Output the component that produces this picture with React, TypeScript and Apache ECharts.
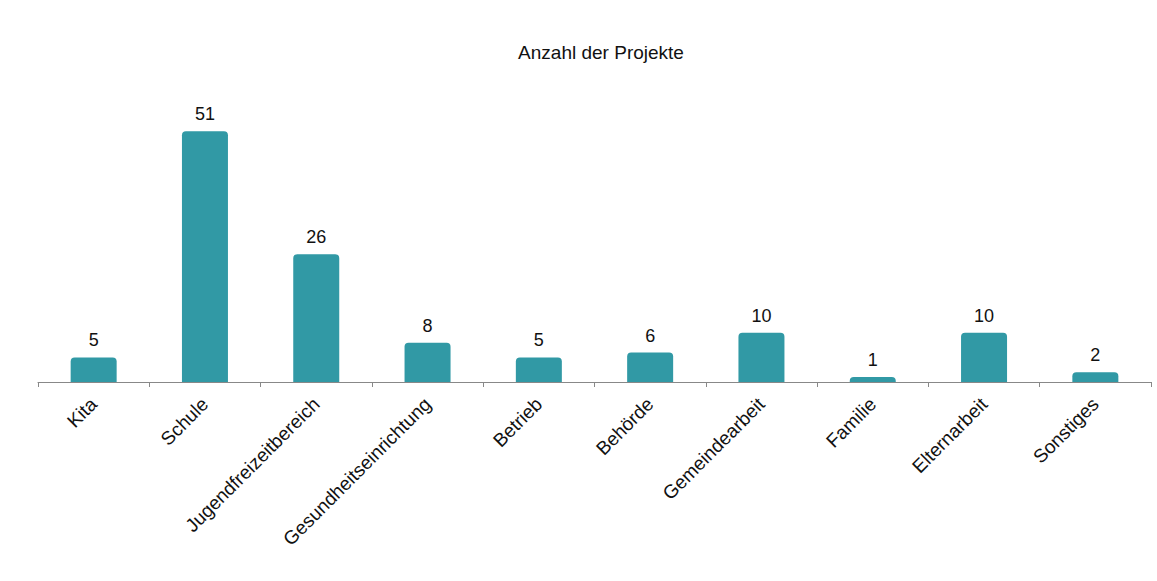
import React, { useEffect, useRef } from "react";
import * as echarts from "echarts";

const categories = ["Kita", "Schule", "Jugendfreizeitbereich", "Gesundheitseinrichtung", "Betrieb", "Behörde", "Gemeindearbeit", "Familie", "Elternarbeit", "Sonstiges"];
const values = [5, 51, 26, 8, 5, 6, 10, 1, 10, 2];
const title = "Anzahl der Projekte";

const FONT = "Liberation Sans, Arial, sans-serif";

export default function App() {
  const ref = useRef<HTMLDivElement>(null);
  useEffect(() => {
    const chart = echarts.init(ref.current!, null, { renderer: "svg" });
    chart.setOption({
      animation: false,
      backgroundColor: "#ffffff",
      title: {
        text: title,
        left: 596,
        top: 38,
        textAlign: "center",
        textStyle: { fontFamily: FONT, fontSize: 19, fontWeight: "normal", color: "#111" },
      },
      grid: { left: 38, right: 6, top: 87, bottom: 199, containLabel: false },
      xAxis: {
        type: "category",
        data: categories,
        axisLine: { lineStyle: { color: "#888", width: 1 } },
        axisTick: { show: true, length: 5, lineStyle: { color: "#888" } },
        axisLabel: {
          rotate: 45,
          margin: 19,
          interval: 0,
          fontFamily: FONT,
          fontSize: 19,
          color: "#111",
        },
      },
      yAxis: { type: "value", min: 0, max: 60, show: false, splitLine: { show: false } },
      series: [
        {
          type: "bar",
          data: values,
          barWidth: 46,
          itemStyle: { color: "#3199a5", borderRadius: [4, 4, 0, 0] },
          label: {
            show: true,
            position: "top",
            distance: 8,
            fontFamily: FONT,
            fontSize: 18,
            color: "#111",
          },
        },
      ],
    });
    return () => chart.dispose();
  }, []);
  return <div ref={ref} style={{ width: 1157, height: 581, position: "absolute", left: 0, top: 0 }} />;
}
